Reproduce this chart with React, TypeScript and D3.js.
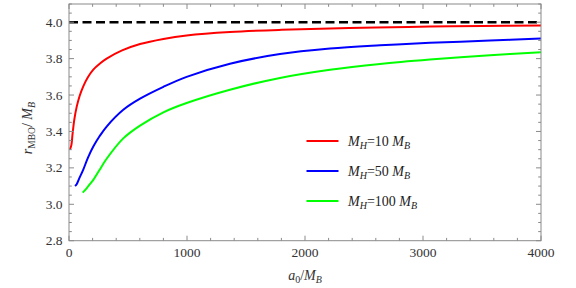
import React from "react";
import * as d3 from "d3";

const redA0 = [8, 20, 30, 45, 65, 90, 121, 160, 206, 260, 319, 450, 602, 800, 997, 1364, 1800, 2212, 2600, 3059, 3500, 4000];
const redR = [3.30, 3.325, 3.385, 3.465, 3.535, 3.595, 3.648, 3.698, 3.74, 3.772, 3.800, 3.845, 3.880, 3.908, 3.927, 3.946, 3.958, 3.965, 3.971, 3.976, 3.979, 3.982];

const blueA0 = [51, 65, 85, 120, 160, 206, 260, 319, 460, 602, 800, 997, 1364, 1788, 2212, 2636, 3059, 3568, 4000];
const blueR = [3.10, 3.11, 3.14, 3.189, 3.255, 3.317, 3.375, 3.427, 3.519, 3.58, 3.645, 3.70, 3.772, 3.825, 3.855, 3.873, 3.887, 3.899, 3.910];

const greenA0 = [116, 140, 170, 206, 260, 319, 460, 602, 800, 997, 1364, 1788, 2212, 2636, 3059, 3568, 4000];
const greenR = [3.064, 3.08, 3.105, 3.134, 3.19, 3.25, 3.362, 3.432, 3.505, 3.556, 3.629, 3.694, 3.739, 3.771, 3.795, 3.819, 3.835];

const xTicks = [0, 1000, 2000, 3000, 4000];
const yTicks = [2.8, 3.0, 3.2, 3.4, 3.6, 3.8, 4.0];
const legendMH = ["10", "50", "100"];
const seriesColors = ["#ff0000", "#0000ff", "#00ff00"];
const asymptote = 4.0;

const FF = "Liberation Serif";
const TS = { fontFamily: '"Liberation Serif"' };

export default function App() {
  const W = 576, H = 288;
  const left = 69, right = 541, top = 4, bottom = 240.7;
  const x = d3.scaleLinear().domain([0, 4000]).range([left, right]);
  const y = d3.scaleLinear().domain([2.8, 4.1]).range([bottom, top]);
  const line = d3.line<[number, number]>().x(d => x(d[0])).y(d => y(d[1])).curve(d3.curveCatmullRom.alpha(0.5));
  const series = [
    redA0.map((a, i) => [a, redR[i]] as [number, number]),
    blueA0.map((a, i) => [a, blueR[i]] as [number, number]),
    greenA0.map((a, i) => [a, greenR[i]] as [number, number]),
  ];
  const xMinor = d3.range(0, 4001, 200);
  const yMinor = d3.range(2.8, 4.1001, 0.05);
  const frame = "#8a8a8a";
  const isMajorX = (v: number) => Math.abs(v % 1000) < 1e-6;
  const isMajorY = (v: number) => Math.abs(Math.round(v * 5) - v * 5) < 1e-6;
  return (
    <svg width={W} height={H} style={{ display: "block", position: "absolute", left: 0, top: 0 }}>
      <rect x={0} y={0} width={W} height={H} fill="#fff" />
      <defs>
        <clipPath id="plotclip"><rect x={left} y={top} width={right - left} height={bottom - top} /></clipPath>
      </defs>
      <g clipPath="url(#plotclip)">
        <line x1={x(0)} x2={x(4000)} y1={y(asymptote)} y2={y(asymptote)} stroke="#000" strokeWidth={2.6} strokeDasharray="9,4.5" />
        {series.map((s, i) => (
          <path key={i} d={line(s) || ""} fill="none" stroke={seriesColors[i]} strokeWidth={2} strokeLinejoin="round" />
        ))}
      </g>
      <rect x={left} y={top} width={right - left} height={bottom - top} fill="none" stroke={frame} strokeWidth={1} />
      {xMinor.map(v => {
        const len = isMajorX(v) ? 5 : 2.8;
        return (
          <g key={"xt" + v} stroke={frame} strokeWidth={1}>
            <line x1={x(v)} x2={x(v)} y1={bottom} y2={bottom - len} />
            <line x1={x(v)} x2={x(v)} y1={top} y2={top + len} />
          </g>
        );
      })}
      {yMinor.map(v => {
        const len = isMajorY(v) ? 5 : 2.8;
        return (
          <g key={"yt" + v.toFixed(2)} stroke={frame} strokeWidth={1}>
            <line x1={left} x2={left + len} y1={y(v)} y2={y(v)} />
            <line x1={right} x2={right - len} y1={y(v)} y2={y(v)} />
          </g>
        );
      })}
      {xTicks.map(v => (
        <text key={"xl" + v} fontFamily={FF} style={TS} x={x(v)} y={257} textAnchor="middle" fontSize={13.5} fill="#333">{v}</text>
      ))}
      {yTicks.map(v => (
        <text key={"yl" + v} fontFamily={FF} style={TS} x={62.5} y={y(v) + 4.6} textAnchor="end" fontSize={13.5} fill="#333">{v.toFixed(1)}</text>
      ))}
      <text fontFamily={FF} style={TS} x={305} y={280} textAnchor="middle" fontSize={14} fill="#333">
        <tspan fontStyle="italic">a</tspan>
        <tspan fontSize={10} dy={3}>0</tspan>
        <tspan dy={-3}>/</tspan>
        <tspan fontStyle="italic">M</tspan>
        <tspan fontStyle="italic" fontSize={10} dy={3}>B</tspan>
      </text>
      <text fontFamily={FF} style={TS} transform={`translate(32,128) rotate(-90)`} textAnchor="middle" fontSize={14} fill="#333">
        <tspan fontStyle="italic">r</tspan>
        <tspan fontSize={9.5} dy={3}>MBO</tspan>
        <tspan dy={-3}>/ </tspan>
        <tspan fontStyle="italic">M</tspan>
        <tspan fontStyle="italic" fontSize={10} dy={3}>B</tspan>
      </text>
      {legendMH.map((m, i) => {
        const ly = 141 + i * 30;
        return (
          <g key={"lg" + m}>
            <line x1={306.5} x2={338.5} y1={ly} y2={ly} stroke={seriesColors[i]} strokeWidth={2} />
            <text fontFamily={FF} style={TS} x={348} y={ly + 5} fontSize={14} fill="#222">
              <tspan fontStyle="italic">M</tspan>
              <tspan fontStyle="italic" fontSize={10} dy={3}>H</tspan>
              <tspan dy={-3}>{"=" + m + " "}</tspan>
              <tspan fontStyle="italic">M</tspan>
              <tspan fontStyle="italic" fontSize={10} dy={3}>B</tspan>
            </text>
          </g>
        );
      })}
    </svg>
  );
}
